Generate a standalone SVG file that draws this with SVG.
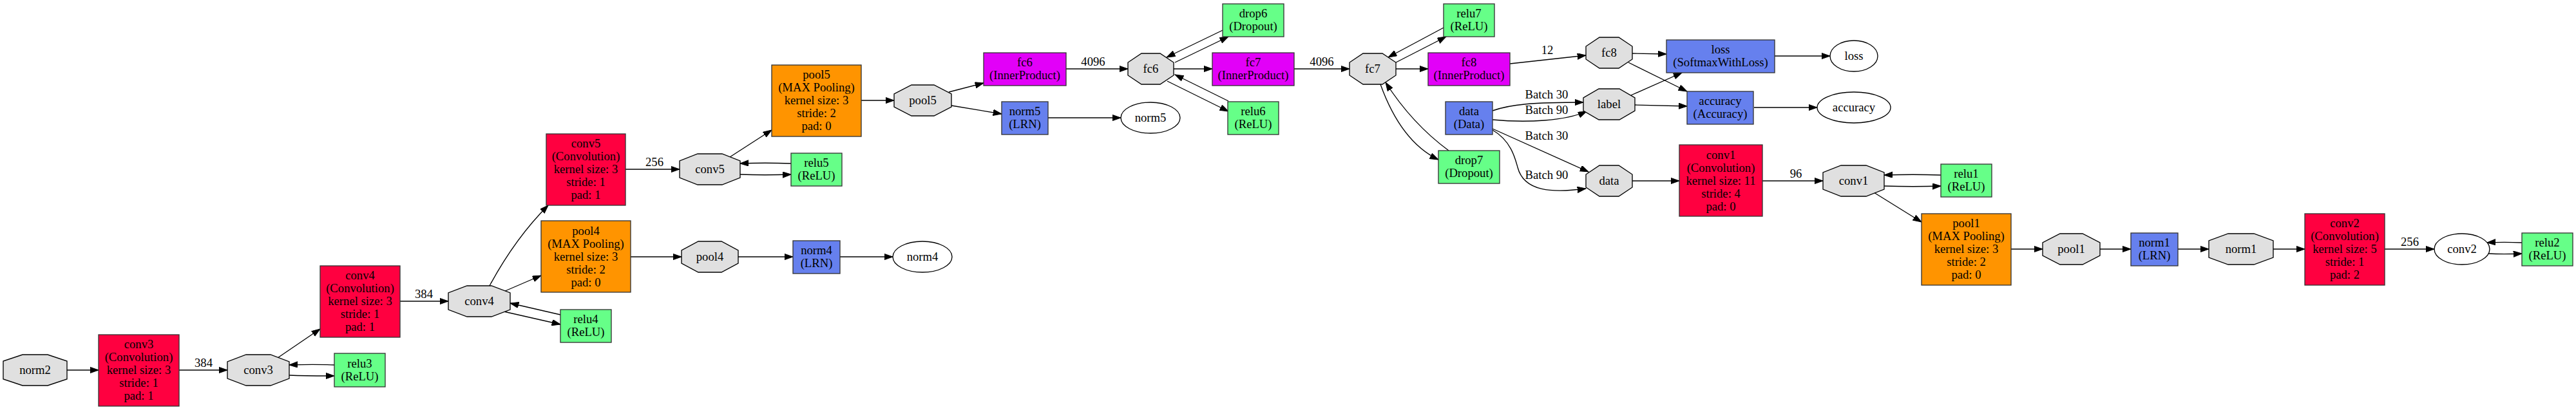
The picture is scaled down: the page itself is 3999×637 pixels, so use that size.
<svg xmlns="http://www.w3.org/2000/svg" width="3999" height="637" viewBox="0 0 3999 637">
<style>
text{font-family:"Liberation Serif","Times New Roman",serif;font-size:18.67px;fill:#000;text-anchor:middle}
.blob{fill:#e0e0e0;stroke:#000;stroke-width:1.33}
.term{fill:#fff;stroke:#000;stroke-width:1.33}
.box{stroke:#333;stroke-width:1.33}
.conv{fill:#ff0040}
.pool{fill:#ff9400}
.fc{fill:#e200f8}
.relu{fill:#66ff88}
.blue{fill:#6680ee}
.e{fill:none;stroke:#000;stroke-width:1.33;marker-end:url(#ah)}
</style>
<defs>
<marker id="ah" markerUnits="userSpaceOnUse" markerWidth="14" markerHeight="10" refX="13.3" refY="4.7" orient="auto">
<path d="M0,0 L13.3,4.7 L0,9.4 z" fill="#000" stroke="#000" stroke-width="1"/>
</marker>
</defs>
<rect width="3999" height="637" fill="#fff"/>

<g id="edges">
<path class="e" d="M104,575 L153,575"/>
<path class="e" d="M278,575 L353,575"/><text x="316" y="570">384</text>
<path class="e" d="M449,583 C475,584 495,584 519,584"/>
<path class="e" d="M519,567 C495,566 475,566 449,567"/>
<path class="e" d="M431,556 L497,511"/>
<path class="e" d="M621,468 L696,468"/><text x="658" y="463">384</text>
<path class="e" d="M782,484 L870,504"/>
<path class="e" d="M870,489 L792,471"/>
<path class="e" d="M782,453 L840,428"/>
<path class="e" d="M760,444 Q800,370 851,319"/>
<path class="e" d="M971,263 L1055,263"/><text x="1016" y="258">256</text>
<path class="e" d="M1149,271 C1175,272 1200,272 1228,271"/>
<path class="e" d="M1228,254 C1200,253 1175,253 1149,254"/>
<path class="e" d="M1133,244 L1198,202"/>
<path class="e" d="M979,399 L1058,399"/>
<path class="e" d="M1146,399 L1231,399"/>
<path class="e" d="M1304,399 L1386,399"/>
<path class="e" d="M1337,156 L1388,156"/>
<path class="e" d="M1473,143 L1527,129"/>
<path class="e" d="M1477,164 L1555,177"/>
<path class="e" d="M1655,107 L1751,107"/><text x="1697" y="102">4096</text>
<path class="e" d="M1627,183 L1740,183"/>
<path class="e" d="M1824,97 L1907,57"/>
<path class="e" d="M1898,47 L1811,89"/>
<path class="e" d="M1822,107 L1882,107"/>
<path class="e" d="M1812,126 L1907,173"/>
<path class="e" d="M1907,157 L1824,116"/>
<path class="e" d="M2009,107 L2095,107"/><text x="2052" y="102">4096</text>
<path class="e" d="M2167,97 L2245,57"/>
<path class="e" d="M2241,43 L2155,89"/>
<path class="e" d="M2167,107 L2217,107"/>
<path class="e" d="M2143,131 Q2175,220 2233,248"/>
<path class="e" d="M2249,234 Q2192,192 2151,128"/>
<path class="e" d="M2344,99 L2462,86"/><text x="2402" y="84">12</text>
<path class="e" d="M2534,83 L2587,84"/>
<path class="e" d="M2528,97 L2619,142"/>
<path class="e" d="M2532,148 L2611,113"/>
<path class="e" d="M2538,163 L2619,165"/>
<path class="e" d="M2317,172 C2345,162 2380,159 2458,159"/><text x="2401" y="153">Batch 30</text>
<path class="e" d="M2317,186 C2370,191 2430,188 2463,173"/><text x="2401" y="177">Batch 90</text>
<path class="e" d="M2317,200 L2466,267"/><text x="2401" y="217">Batch 30</text>
<path class="e" d="M2317,202 C2345,218 2352,245 2356,260 C2366,298 2410,300 2462,293"/><text x="2401" y="278">Batch 90</text>
<path class="e" d="M2534,281 L2607,281"/>
<path class="e" d="M2736,281 L2830,281"/><text x="2788" y="276">96</text>
<path class="e" d="M2925,289 C2955,290 2985,290 3013,289"/>
<path class="e" d="M3013,272 C2985,271 2955,271 2925,272"/>
<path class="e" d="M2909,299 L2983,345"/>
<path class="e" d="M2723,167 L2821,167"/>
<path class="e" d="M2755,87 L2841,87"/>
<path class="e" d="M3122,387 L3171,387"/>
<path class="e" d="M3260,387 L3308,387"/>
<path class="e" d="M3381,387 L3429,387"/>
<path class="e" d="M3529,387 L3578,387"/>
<path class="e" d="M3702,387 L3779,387"/><text x="3741" y="382">256</text>
<path class="e" d="M3862,394 C3880,395 3895,395 3915,394"/>
<path class="e" d="M3915,377 C3895,376 3880,376 3861,377"/>
</g>

<g id="norm2_blob"><polygon class="blob" points="5,561 5,589 35,599 74,599 104,589 104,561 74,551 35,551"/><text x="54.5" y="581">norm2</text></g>
<g id="conv3"><rect class="box conv" x="153" y="520" width="125" height="111"/><text x="215.5" y="540.5">conv3</text><text x="215.5" y="560.5">(Convolution)</text><text x="215.5" y="580.5">kernel size: 3</text><text x="215.5" y="600.5">stride: 1</text><text x="215.5" y="620.5">pad: 1</text></g>
<g id="conv3_blob"><polygon class="blob" points="353,562 353,588 382,599 420,599 449,588 449,562 420,551 382,551"/><text x="401" y="581">conv3</text></g>
<g id="relu3"><rect class="box relu" x="519" y="549" width="79" height="52"/><text x="558.5" y="570.5">relu3</text><text x="558.5" y="590.5">(ReLU)</text></g>
<g id="conv4"><rect class="box conv" x="497" y="413" width="124" height="111"/><text x="559" y="433.5">conv4</text><text x="559" y="453.5">(Convolution)</text><text x="559" y="473.5">kernel size: 3</text><text x="559" y="493.5">stride: 1</text><text x="559" y="513.5">pad: 1</text></g>
<g id="conv4_blob"><polygon class="blob" points="696,455 696,481 725,492 763,492 792,481 792,455 763,444 725,444"/><text x="744" y="474">conv4</text></g>
<g id="relu4"><rect class="box relu" x="870" y="481" width="79" height="51"/><text x="909.5" y="501.5">relu4</text><text x="909.5" y="521.5">(ReLU)</text></g>
<g id="pool4"><rect class="box pool" x="840" y="343" width="139" height="111"/><text x="909.5" y="364.5">pool4</text><text x="909.5" y="384.5">(MAX Pooling)</text><text x="909.5" y="404.5">kernel size: 3</text><text x="909.5" y="424.5">stride: 2</text><text x="909.5" y="444.5">pad: 0</text></g>
<g id="conv5"><rect class="box conv" x="848" y="208" width="123" height="111"/><text x="909.5" y="228.5">conv5</text><text x="909.5" y="248.5">(Convolution)</text><text x="909.5" y="268.5">kernel size: 3</text><text x="909.5" y="288.5">stride: 1</text><text x="909.5" y="308.5">pad: 1</text></g>
<g id="conv5_blob"><polygon class="blob" points="1055,250 1055,276 1083,287 1121,287 1149,276 1149,250 1121,239 1083,239"/><text x="1102" y="269">conv5</text></g>
<g id="pool4_blob"><polygon class="blob" points="1058,389 1058,409 1084,423 1120,423 1146,409 1146,389 1120,375 1084,375"/><text x="1102" y="405">pool4</text></g>
<g id="relu5"><rect class="box relu" x="1228" y="238" width="79" height="51"/><text x="1267.5" y="258.5">relu5</text><text x="1267.5" y="278.5">(ReLU)</text></g>
<g id="norm4"><rect class="box blue" x="1231" y="374" width="73" height="51"/><text x="1267.5" y="394.5">norm4</text><text x="1267.5" y="414.5">(LRN)</text></g>
<g id="norm4_blob"><ellipse class="term" cx="1432" cy="399" rx="46" ry="24"/><text x="1432" y="405">norm4</text></g>
<g id="pool5"><rect class="box pool" x="1198" y="101" width="139" height="111"/><text x="1267.5" y="121.5">pool5</text><text x="1267.5" y="141.5">(MAX Pooling)</text><text x="1267.5" y="161.5">kernel size: 3</text><text x="1267.5" y="181.5">stride: 2</text><text x="1267.5" y="201.5">pad: 0</text></g>
<g id="pool5_blob"><polygon class="blob" points="1388,146 1388,166 1415,180 1450,180 1477,166 1477,146 1450,132 1415,132"/><text x="1432.5" y="162">pool5</text></g>
<g id="fc6"><rect class="box fc" x="1527" y="82" width="128" height="51"/><text x="1591" y="102.5">fc6</text><text x="1591" y="122.5">(InnerProduct)</text></g>
<g id="norm5"><rect class="box blue" x="1555" y="158" width="72" height="51"/><text x="1591" y="178.5">norm5</text><text x="1591" y="198.5">(LRN)</text></g>
<g id="norm5_blob"><ellipse class="term" cx="1786" cy="183" rx="46" ry="24"/><text x="1786" y="189">norm5</text></g>
<g id="fc6_blob"><polygon class="blob" points="1751,97 1751,117 1772,131 1801,131 1822,117 1822,97 1801,83 1772,83"/><text x="1786.5" y="113">fc6</text></g>
<g id="drop6"><rect class="box relu" x="1898" y="6" width="95" height="51"/><text x="1945.5" y="26.5">drop6</text><text x="1945.5" y="46.5">(Dropout)</text></g>
<g id="fc7"><rect class="box fc" x="1882" y="82" width="127" height="51"/><text x="1945.5" y="102.5">fc7</text><text x="1945.5" y="122.5">(InnerProduct)</text></g>
<g id="relu6"><rect class="box relu" x="1906" y="158" width="79" height="51"/><text x="1945.5" y="178.5">relu6</text><text x="1945.5" y="198.5">(ReLU)</text></g>
<g id="fc7_blob"><polygon class="blob" points="2095,97 2095,117 2116,131 2146,131 2167,117 2167,97 2146,83 2116,83"/><text x="2131" y="113">fc7</text></g>
<g id="relu7"><rect class="box relu" x="2241" y="6" width="79" height="51"/><text x="2280.5" y="26.5">relu7</text><text x="2280.5" y="46.5">(ReLU)</text></g>
<g id="fc8"><rect class="box fc" x="2217" y="82" width="127" height="51"/><text x="2280.5" y="102.5">fc8</text><text x="2280.5" y="122.5">(InnerProduct)</text></g>
<g id="data"><rect class="box blue" x="2244" y="158" width="73" height="51"/><text x="2280.5" y="178.5">data</text><text x="2280.5" y="198.5">(Data)</text></g>
<g id="drop7"><rect class="box relu" x="2233" y="234" width="95" height="51"/><text x="2280.5" y="254.5">drop7</text><text x="2280.5" y="274.5">(Dropout)</text></g>
<g id="fc8_blob"><polygon class="blob" points="2462,72 2462,92 2483,106 2513,106 2534,92 2534,72 2513,58 2483,58"/><text x="2498" y="88">fc8</text></g>
<g id="label_blob"><polygon class="blob" points="2458,152 2458,172 2482,186 2514,186 2538,172 2538,152 2514,138 2482,138"/><text x="2498" y="168">label</text></g>
<g id="data_blob"><polygon class="blob" points="2462,271 2462,291 2483,305 2513,305 2534,291 2534,271 2513,257 2483,257"/><text x="2498" y="287">data</text></g>
<g id="loss"><rect class="box blue" x="2587" y="62" width="168" height="51"/><text x="2671" y="82.5">loss</text><text x="2671" y="102.5">(SoftmaxWithLoss)</text></g>
<g id="accuracy"><rect class="box blue" x="2619" y="142" width="103" height="51"/><text x="2670.5" y="162.5">accuracy</text><text x="2670.5" y="182.5">(Accuracy)</text></g>
<g id="loss_blob"><ellipse class="term" cx="2878" cy="87" rx="37" ry="24"/><text x="2878" y="93">loss</text></g>
<g id="accuracy_blob"><ellipse class="term" cx="2878" cy="167" rx="57" ry="24"/><text x="2878" y="173">accuracy</text></g>
<g id="conv1"><rect class="box conv" x="2607" y="225" width="129" height="111"/><text x="2671.5" y="246.5">conv1</text><text x="2671.5" y="266.5">(Convolution)</text><text x="2671.5" y="286.5">kernel size: 11</text><text x="2671.5" y="306.5">stride: 4</text><text x="2671.5" y="326.5">pad: 0</text></g>
<g id="conv1_blob"><polygon class="blob" points="2830,268 2830,294 2858,305 2897,305 2925,294 2925,268 2897,257 2858,257"/><text x="2877.5" y="287">conv1</text></g>
<g id="relu1"><rect class="box relu" x="3013" y="255" width="79" height="51"/><text x="3052.5" y="275.5">relu1</text><text x="3052.5" y="295.5">(ReLU)</text></g>
<g id="pool1"><rect class="box pool" x="2983" y="332" width="139" height="111"/><text x="3052.5" y="352.5">pool1</text><text x="3052.5" y="372.5">(MAX Pooling)</text><text x="3052.5" y="392.5">kernel size: 3</text><text x="3052.5" y="412.5">stride: 2</text><text x="3052.5" y="432.5">pad: 0</text></g>
<g id="pool1_blob"><polygon class="blob" points="3171,377 3171,397 3198,411 3233,411 3260,397 3260,377 3233,363 3198,363"/><text x="3215.5" y="393">pool1</text></g>
<g id="norm1"><rect class="box blue" x="3308" y="362" width="73" height="51"/><text x="3344.5" y="382.5">norm1</text><text x="3344.5" y="402.5">(LRN)</text></g>
<g id="norm1_blob"><polygon class="blob" points="3429,374 3429,400 3459,411 3499,411 3529,400 3529,374 3499,363 3459,363"/><text x="3479" y="393">norm1</text></g>
<g id="conv2"><rect class="box conv" x="3578" y="332" width="124" height="111"/><text x="3640" y="352.5">conv2</text><text x="3640" y="372.5">(Convolution)</text><text x="3640" y="392.5">kernel size: 5</text><text x="3640" y="412.5">stride: 1</text><text x="3640" y="432.5">pad: 2</text></g>
<g id="conv2_blob"><ellipse class="term" cx="3822" cy="387" rx="43" ry="24"/><text x="3822" y="393">conv2</text></g>
<g id="relu2"><rect class="box relu" x="3915" y="362" width="79" height="51"/><text x="3954.5" y="382.5">relu2</text><text x="3954.5" y="402.5">(ReLU)</text></g>
</svg>
